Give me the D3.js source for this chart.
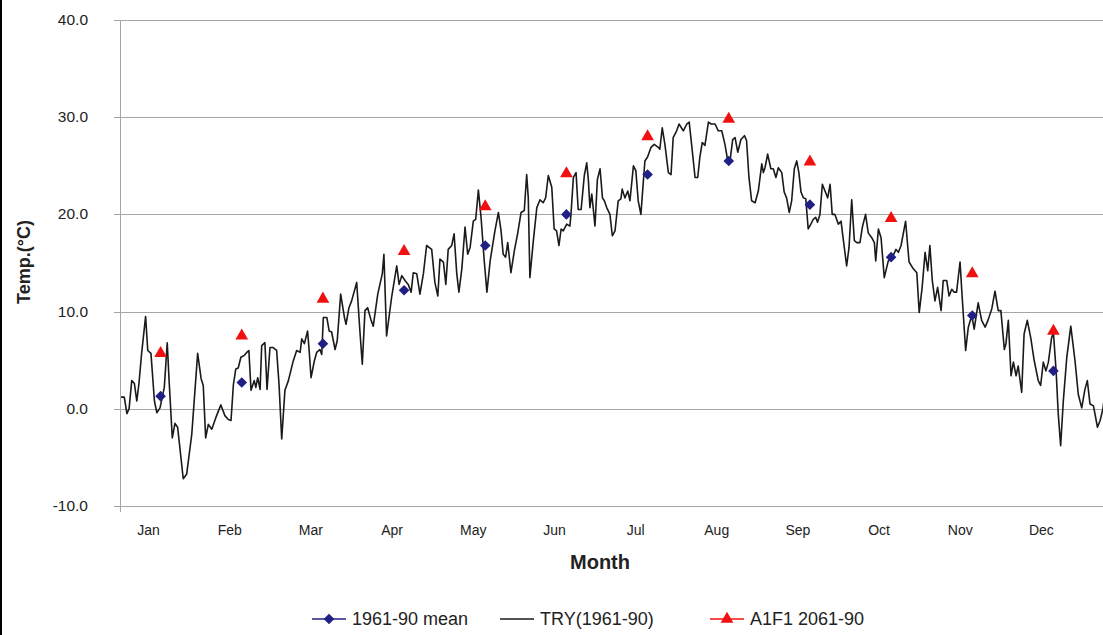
<!DOCTYPE html>
<html>
<head>
<meta charset="utf-8">
<script src="https://cdn.jsdelivr.net/npm/d3@7"></script>
<style>
  html, body { margin: 0; padding: 0; background: #fff; }
  svg { display: block; font-family: "Liberation Sans", Arial, sans-serif; }
</style>
</head>
<body>
<div id="chart"></div>
<script>
// Daily temperature, typical reference year vs monthly means and A1F1 projection
const months = ["Jan","Feb","Mar","Apr","May","Jun","Jul","Aug","Sep","Oct","Nov","Dec"];

// monthly mean 1961-90 (diamonds)
const mean6190 = [1.3, 2.7, 6.7, 12.2, 16.8, 20.0, 24.1, 25.5, 21.0, 15.6, 9.6, 3.9];
// A1F1 2061-90 projection (triangles)
const a1f12061 = [5.7, 7.5, 11.3, 16.2, 20.8, 24.2, 28.0, 29.8, 25.4, 19.6, 13.9, 8.0];

// TRY(1961-90) daily line as [day of year, temp]
const tryDay = [
  0.4, 1.6, 2.6, 3.4, 4.4, 5.4, 6.3, 7.1, 8.1, 9.6, 10.4, 11.6, 12.9, 13.8, 15.0, 16.6, 17.7, 18.4, 19.6, 20.6,
  21.6, 23.7, 25.0, 26.9, 29.1, 30.4, 31.2, 32.1, 33.1, 34.4, 36.2, 37.8, 39.3, 40.6, 41.6, 42.5, 43.4, 44.3, 45.3, 46.6,
  47.5, 48.3, 49.1, 50.3, 50.9, 51.6, 52.5, 53.1, 54.3, 55.1, 56.2, 57.4, 58.7, 59.6, 60.6, 61.8, 63.1, 64.9, 66.2, 67.5,
  68.1, 69.1, 70.3, 70.8, 71.6, 72.8, 73.7, 74.9, 75.6, 76.2, 77.5, 78.4, 79.3, 80.6, 81.4, 82.7, 84.1, 84.7, 85.8, 86.8,
  88.7, 89.9, 90.8, 91.8, 92.8, 94.1, 94.9, 96.6, 98.3, 98.9, 99.9, 101.8, 103.7, 104.6, 105.6, 106.8, 108.0, 109.1, 109.9, 111.2,
  112.4, 113.7, 114.9, 116.8, 118.0, 119.1, 119.9, 121.2, 122.1, 123.0, 124.3, 125.2, 126.2, 127.0, 128.1, 129.3, 130.3, 131.2, 132.4, 133.3,
  134.3, 135.3, 136.5, 137.5, 138.7, 140.5, 141.8, 142.8, 143.6, 144.5, 145.3, 146.5, 147.8, 149.0, 150.3, 151.5, 152.4, 153.0, 153.6, 154.9,
  156.2, 157.4, 158.6, 159.5, 160.5, 161.8, 162.7, 163.6, 164.5, 165.3, 166.1, 167.4, 168.6, 169.0, 169.9, 170.9, 171.7, 172.8, 174.0, 174.9,
  175.5, 176.1, 176.8, 178.0, 178.9, 179.9, 180.8, 181.5, 182.4, 183.6, 184.5, 185.5, 186.7, 187.7, 188.2, 189.2, 190.3, 191.1, 192.4, 193.3,
  194.2, 195.2, 196.7, 197.7, 199.0, 200.2, 201.7, 202.3, 203.2, 204.2, 205.5, 206.5, 207.3, 208.6, 209.5, 211.1, 212.4, 213.3, 214.2, 215.5,
  216.5, 217.3, 218.2, 219.2, 220.5, 221.5, 223.0, 224.2, 225.5, 226.7, 227.7, 228.6, 229.6, 230.5, 231.5, 232.7, 234.0, 234.8, 235.7, 236.7,
  238.0, 239.2, 240.5, 241.1, 241.7, 242.7, 243.9, 244.8, 245.8, 246.7, 248.0, 248.9, 249.8, 250.8, 251.7, 252.7, 253.6, 254.4, 255.2, 256.1,
  257.0, 257.9, 258.9, 259.8, 260.7, 261.4, 262.3, 263.2, 264.2, 265.2, 266.1, 266.9, 267.9, 269.2, 270.2, 271.1, 272.3, 273.2, 274.2, 275.2,
  276.1, 277.3, 278.2, 279.4, 280.4, 281.7, 282.7, 283.2, 284.2, 285.2, 286.4, 287.9, 289.4, 290.8, 291.7, 292.7, 294.4, 295.7, 297.3, 298.6,
  299.5, 300.6, 301.7, 302.7, 303.5, 304.4, 305.4, 306.4, 307.7, 308.5, 309.8, 310.7, 311.7, 312.6, 313.5, 314.8, 315.6, 316.9, 317.9, 319.2,
  320.1, 321.6, 322.9, 324.2, 325.4, 326.7, 327.9, 329.1, 330.1, 331.4, 332.0, 332.9, 333.9, 334.8, 335.8, 336.6, 337.9, 338.8, 340.0, 341.3,
  342.5, 344.1, 345.0, 346.0, 347.0, 347.9, 349.1, 349.8, 350.8, 351.6, 352.5, 353.5, 354.8, 356.3, 357.9, 359.1, 360.4, 361.6, 362.5, 363.5,
  364.8, 366.3, 367.3, 368.4, 369.5
];
const tryTemp = [
  1.2, 1.2, -0.5, 0.0, 2.9, 2.6, 0.8, 2.6, 5.7, 9.5, 6.0, 5.7, 0.8, -0.4, 0.1, 2.2, 6.8, 2.9, -3.0, -1.5,
  -1.9, -7.2, -6.7, -2.6, 5.7, 3.1, 2.4, -3.0, -1.6, -2.1, -0.7, 0.4, -0.7, -1.1, -1.2, 2.5, 4.1, 4.2, 5.3, 5.5,
  5.8, 6.0, 1.9, 2.9, 2.2, 3.2, 2.0, 6.5, 6.8, 2.0, 6.3, 6.3, 6.0, 2.5, -3.1, 1.9, 2.9, 4.9, 6.0, 5.8,
  7.2, 6.7, 8.0, 6.3, 3.2, 4.9, 5.8, 6.1, 5.6, 9.4, 9.4, 8.0, 7.9, 6.1, 7.0, 11.8, 9.4, 8.7, 10.4, 11.1,
  13.0, 8.0, 4.6, 10.1, 10.4, 9.1, 8.5, 11.8, 13.9, 15.9, 7.5, 11.5, 14.7, 12.8, 13.7, 13.2, 12.8, 12.0, 14.0, 13.9,
  11.8, 13.9, 16.8, 16.4, 13.0, 11.6, 15.4, 15.1, 12.8, 16.4, 16.8, 18.0, 13.9, 12.0, 14.4, 18.7, 15.9, 16.6, 19.3, 19.5,
  22.5, 19.7, 15.2, 12.0, 15.2, 18.3, 20.2, 18.3, 15.9, 15.6, 17.1, 14.0, 16.3, 18.0, 20.2, 20.4, 24.1, 21.7, 13.5, 17.3,
  20.7, 21.5, 21.2, 21.7, 24.0, 22.8, 18.5, 18.3, 16.8, 18.5, 18.3, 19.0, 18.8, 20.0, 23.8, 24.3, 20.5, 20.5, 24.0, 25.3,
  23.6, 20.7, 22.1, 18.8, 23.6, 24.7, 21.7, 21.4, 20.7, 20.0, 17.8, 18.3, 21.4, 21.6, 22.6, 21.7, 22.4, 21.4, 25.0, 24.5,
  21.4, 20.0, 25.5, 25.9, 26.9, 27.2, 26.9, 26.7, 28.9, 27.2, 24.3, 24.1, 27.9, 28.6, 29.3, 28.6, 29.3, 29.5, 27.2, 23.8,
  23.8, 25.9, 27.4, 27.1, 29.5, 29.3, 29.3, 28.6, 28.6, 27.2, 25.6, 25.5, 27.7, 27.9, 26.4, 27.7, 28.1, 27.6, 23.8, 21.4,
  21.2, 22.4, 25.2, 24.3, 24.8, 26.2, 24.7, 24.7, 23.8, 24.8, 24.3, 22.3, 21.7, 20.2, 21.4, 24.7, 25.5, 24.3, 22.3, 21.7,
  21.6, 18.5, 19.0, 19.5, 19.7, 19.2, 20.0, 23.1, 22.4, 21.7, 23.1, 20.0, 20.0, 19.0, 19.3, 17.3, 14.7, 16.6, 21.5, 17.3,
  17.1, 17.1, 18.7, 20.0, 18.1, 17.6, 17.1, 15.2, 18.5, 17.6, 13.5, 15.2, 15.6, 16.4, 16.1, 16.8, 19.3, 15.1, 14.4, 14.0,
  9.9, 12.5, 16.1, 14.2, 16.8, 13.2, 11.1, 12.5, 10.1, 13.2, 13.2, 11.6, 12.3, 12.0, 12.0, 15.1, 11.5, 6.0, 8.4, 9.6,
  8.2, 10.9, 9.1, 8.4, 9.2, 10.3, 12.1, 10.1, 10.1, 6.1, 6.7, 9.1, 3.4, 4.8, 3.4, 4.4, 1.7, 7.7, 9.1, 7.3,
  5.1, 2.9, 2.4, 4.8, 3.9, 4.8, 7.3, 7.8, 3.9, -0.5, -3.8, 0.8, 5.3, 8.5, 4.9, 1.5, 0.1, 2.0, 2.9, 0.5,
  0.3, -1.9, -1.2, 0.1, 2.6
];

const yTicks = [-10, 0, 10, 20, 30, 40];

const width = 1103, height = 635;
const plotLeft = 120, plotTop = 20, plotBottom = 506;

const svg = d3.select("#chart").append("svg")
  .attr("width", width)
  .attr("height", height);

// day axis: 365 days span 12 equal month slots
const x = d3.scaleLinear().domain([0, 365]).range([plotLeft, 1094]);
const y = d3.scaleLinear().domain([-10, 40]).range([plotBottom, plotTop]);
const monthMid = i => (i + 0.5) * 365 / 12;

// left border of the figure
svg.append("line")
  .attr("x1", 1).attr("x2", 1).attr("y1", 0).attr("y2", height)
  .attr("stroke", "#000").attr("stroke-width", 2);

// gridlines
svg.append("g").selectAll("line")
  .data(yTicks)
  .join("line")
  .attr("x1", plotLeft - 6).attr("x2", width)
  .attr("y1", d => Math.round(y(d)) + 0.5).attr("y2", d => Math.round(y(d)) + 0.5)
  .attr("stroke", "#a6a6a6").attr("stroke-width", 1);

// y axis line
svg.append("line")
  .attr("x1", plotLeft + 0.5).attr("x2", plotLeft + 0.5)
  .attr("y1", plotTop).attr("y2", plotBottom + 6)
  .attr("stroke", "#a6a6a6");

// y tick labels (plain hyphen for negatives, like the original)
svg.append("g").selectAll("text")
  .data(yTicks)
  .join("text")
  .attr("x", 88)
  .attr("y", d => y(d) + 5)
  .attr("text-anchor", "end")
  .style("font-size", "15.5px")
  .style("fill", "#222")
  .text(d => d3.format(".1f")(d).replace("\u2212", "-"));

// x month labels
svg.append("g").selectAll("text")
  .data(months)
  .join("text")
  .attr("x", (d, i) => x(monthMid(i)) - 12)
  .attr("y", 535)
  .attr("text-anchor", "middle")
  .style("font-size", "14px")
  .style("fill", "#222")
  .text(d => d);

// axis titles
svg.append("text")
  .attr("x", 600).attr("y", 569)
  .attr("text-anchor", "middle")
  .style("font-size", "20px")
  .style("font-weight", "bold")
  .style("fill", "#222")
  .text("Month");

svg.append("text")
  .attr("transform", "translate(30,262) rotate(-90)")
  .attr("text-anchor", "middle")
  .style("font-size", "18px")
  .style("font-weight", "bold")
  .style("fill", "#222")
  .text("Temp.(°C)");

// TRY line
const lineData = tryDay.map((d, i) => [d, tryTemp[i]]);
svg.append("path")
  .datum(lineData)
  .attr("fill", "none")
  .attr("stroke", "#1a1a1a")
  .attr("stroke-width", 1.6)
  .attr("stroke-linejoin", "round")
  .attr("d", d3.line().x(d => x(d[0])).y(d => y(d[1])));

const diamond = d3.symbol().type(d3.symbolDiamond2).size(72);
const triangle = d3.symbol().type(d3.symbolTriangle).size(70);

// mean markers
svg.append("g").selectAll("path")
  .data(mean6190)
  .join("path")
  .attr("transform", (d, i) => `translate(${x(monthMid(i))},${y(d)})`)
  .attr("d", diamond)
  .attr("fill", "#1f1f85");

// A1F1 markers
svg.append("g").selectAll("path")
  .data(a1f12061)
  .join("path")
  .attr("transform", (d, i) => `translate(${x(monthMid(i))},${y(d)})`)
  .attr("d", triangle)
  .attr("fill", "#f01010");

// legend
const legend = svg.append("g").attr("transform", "translate(0,619)");
const items = [
  { x: 312, label: "1961-90 mean", color: "#1f1f85", sym: diamond },
  { x: 500, label: "TRY(1961-90)", color: "#1a1a1a", sym: null },
  { x: 710, label: "A1F1 2061-90", color: "#f01010", sym: triangle }
];
items.forEach(it => {
  legend.append("line")
    .attr("x1", it.x).attr("x2", it.x + 34)
    .attr("y1", 0).attr("y2", 0)
    .attr("stroke", it.color).attr("stroke-width", 1.6);
  if (it.sym) {
    legend.append("path")
      .attr("transform", `translate(${it.x + 17},0)`)
      .attr("d", it.sym)
      .attr("fill", it.color);
  }
  legend.append("text")
    .attr("x", it.x + 40).attr("y", 6)
    .style("font-size", "18px")
    .style("fill", "#222")
    .text(it.label);
});
</script>
</body>
</html>
